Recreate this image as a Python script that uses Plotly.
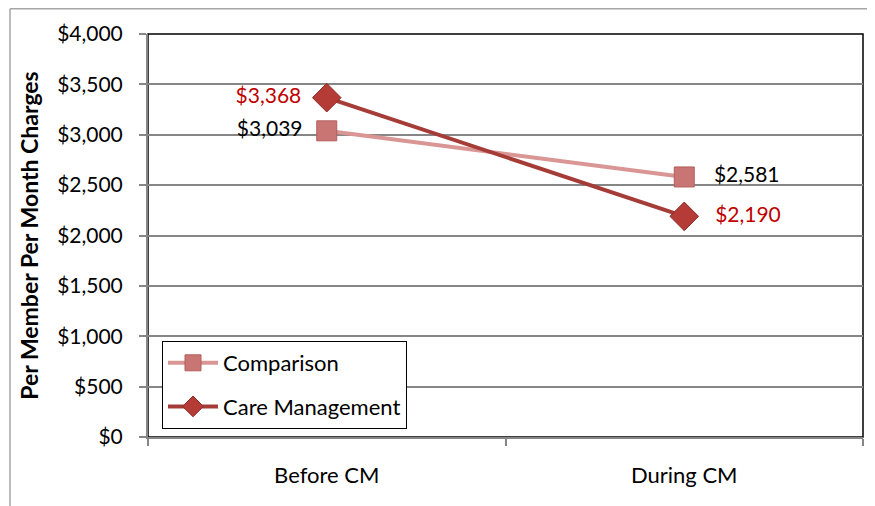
import plotly.graph_objects as go

categories = ["Before CM", "During CM"]
comparison = [3039, 2581]
care_mgmt = [3368, 2190]
y_ticks = [0, 500, 1000, 1500, 2000, 2500, 3000, 3500, 4000]
y_tick_labels = ["$" + format(v, ",") for v in y_ticks]
comp_labels = ["$" + format(v, ",") for v in comparison]
cm_labels = ["$" + format(v, ",") for v in care_mgmt]

FONT = "Lato"
FS = 21
OFF = 8  # page body margin
W, H = 875 - OFF, 506 - OFF
# plot area in page coords: x 148..863, y 34..437
L = 148 - OFF
T = 34 - OFF
R = W - (863 - OFF)
B = H - (437 - OFF)
pw = W - L - R
ph = H - T - B

NB = "\u00a0"
tt = ["%{text}" + NB * 2, NB * 3 + "%{text}"]

fig = go.Figure()
fig.add_trace(go.Scatter(
    x=categories, y=comparison, name="Comparison",
    mode="lines+markers+text",
    line=dict(color="#D99694", width=4),
    marker=dict(symbol="square", size=20, color="#C97573",
                line=dict(color="#B35E5C", width=1)),
    text=comp_labels, texttemplate=tt,
    textposition=["middle left", "middle right"],
    textfont=dict(family=FONT, size=FS, color="#000000"),
    legendgroup="a",
))
fig.add_trace(go.Scatter(
    x=categories, y=care_mgmt, name="Care Management",
    mode="lines+markers+text",
    line=dict(color="#A53C38", width=4),
    marker=dict(symbol="diamond", size=22, color="#B53B37",
                line=dict(color="#8E2A27", width=1)),
    text=cm_labels, texttemplate=tt,
    textposition=["middle left", "middle right"],
    textfont=dict(family=FONT, size=FS, color="#C00000"),
    legendgroup="b",
))

# chart-area border (gray), page coords x=10 / y=8
fig.add_shape(type="line", xref="paper", yref="paper",
              x0=(10 - OFF - L) / pw, x1=(W + 5 - L) / pw,
              y0=(H - B - 0.8) / ph, y1=(H - B - 0.8) / ph,
              line=dict(color="#A6A6A6", width=1.5))
fig.add_shape(type="line", xref="paper", yref="paper",
              x0=(10 - OFF - L) / pw, x1=(10 - OFF - L) / pw,
              y0=(H - B - 0.8) / ph, y1=-(B + 5) / ph,
              line=dict(color="#A6A6A6", width=1.5))
# plot-area border (black)
fig.add_shape(type="rect", xref="paper", yref="paper",
              x0=0, x1=1, y0=0, y1=1, layer="below",
              line=dict(color="#000000", width=1.5))

fig.update_layout(
    template="none",
    width=W, height=H,
    margin=dict(l=L, r=R, t=T, b=B, autoexpand=False),
    paper_bgcolor="white", plot_bgcolor="white",
    font=dict(family=FONT, size=FS, color="#000000"),
    showlegend=True,
    legend=dict(
        x=(162 - 148) / pw, y=(437 - 429) / ph, xanchor="left", yanchor="bottom",
        bordercolor="#000000", borderwidth=1, bgcolor="white",
        font=dict(family=FONT, size=22, color="#000000"),
        tracegroupgap=12, traceorder="grouped", itemwidth=50,
    ),
    xaxis=dict(
        type="category", range=[-0.5, 1.5], tickson="boundaries",
        ticks="outside", ticklen=7, tickcolor="#868686", tickwidth=1.5,
        showline=True, linecolor="#868686", linewidth=2,
        showgrid=False, zeroline=False, automargin=False,
        ticklabelstandoff=18,
        tickfont=dict(family=FONT, size=22, color="#000000"),
    ),
    yaxis=dict(
        range=[0, 4000], tickvals=y_ticks, ticktext=y_tick_labels,
        ticks="outside", ticklen=7, tickcolor="#868686", tickwidth=1.5,
        showline=True, linecolor="#868686", linewidth=2,
        showgrid=True, gridcolor="#868686", gridwidth=1.5,
        zeroline=False, automargin=False,
        ticklabelstandoff=12,
        tickfont=dict(family=FONT, size=FS, color="#000000"),
        title=dict(text="<b>Per Member Per Month Charges</b>",
                   font=dict(family=FONT, size=23, color="#000000"),
                   standoff=12),
    ),
)

fig.write_html("out.html")
